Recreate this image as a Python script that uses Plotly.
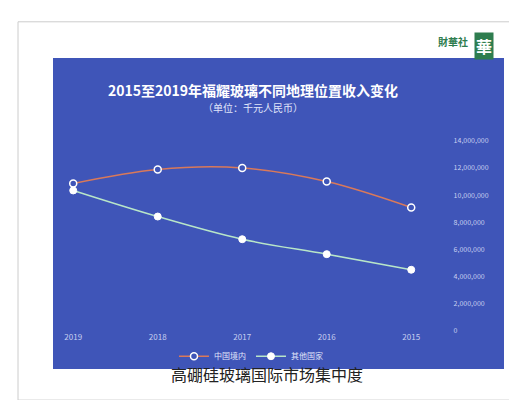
import plotly.graph_objects as go

years = ["2019", "2018", "2017", "2016", "2015"]
domestic = [10860000, 11890000, 12000000, 11000000, 9090000]
overseas = [10340000, 8420000, 6750000, 5650000, 4500000]
y_ticks = [0, 2000000, 4000000, 6000000, 8000000, 10000000, 12000000, 14000000]

W, H = 517, 400

def px(x, y):
	return x / W, 1 - y / H

fig = go.Figure()
fig.add_trace(go.Scatter(
	x=years, y=domestic, name="中国境内", mode="lines+markers",
	line=dict(color="#d9795a", width=1.5, shape="spline"),
	marker=dict(symbol="circle", size=7, color="#3f55b8", line=dict(color="white", width=1.5))
))
fig.add_trace(go.Scatter(
	x=years, y=overseas, name="其他国家", mode="lines+markers",
	line=dict(color="#b8e6c8", width=1.5, shape="spline"),
	marker=dict(symbol="circle", size=7, color="white", line=dict(color="white", width=1))
))

x0, y0 = px(45, 45)
x1, y1 = px(496, 364)
fig.add_shape(type="rect", xref="paper", yref="paper", x0=x0, y0=y1, x1=x1, y1=y0,
	fillcolor="#3f55b8", line=dict(width=0), layer="below")
fig.add_shape(type="rect", xref="paper", yref="paper", x0=px(10, 0)[0], y0=px(0, 396)[1],
	x1=px(510, 0)[0], y1=px(0, 8)[1], fillcolor="rgba(0,0,0,0)",
	line=dict(color="#cccccc", width=1))

fig.update_layout(
	width=W, height=H, margin=dict(l=0, r=0, t=0, b=0),
	paper_bgcolor="white", plot_bgcolor="rgba(0,0,0,0)",
	font=dict(family="Noto Sans CJK SC", color="#d5dcf5", size=8),
	xaxis=dict(domain=[0.1, 0.86], range=[-0.16, 4.49], type="category",
		showgrid=False, zeroline=False, showline=False, ticks="",
		tickfont=dict(size=8, color="#c8d0f0")),
	yaxis=dict(domain=[0.1875, 0.675], range=[0, 14000000], side="right",
		tickvals=y_ticks, tickformat=",d", showgrid=False, zeroline=False,
		tickfont=dict(size=7, color="#c8d0f0")),
	legend=dict(orientation="h", x=0.47, y=px(0, 351)[1], xanchor="center", yanchor="middle",
		font=dict(size=8, color="#e0e5fa"), bgcolor="rgba(0,0,0,0)",
		itemwidth=30, tracegroupgap=0),
	showlegend=True,
	annotations=[
		dict(text="<b>2015至2019年福耀玻璃不同地理位置收入变化</b>", xref="paper", yref="paper",
			x=px(245, 0)[0], y=px(0, 66)[1], showarrow=False,
			font=dict(size=14, color="white")),
		dict(text="（单位：千元人民币）", xref="paper", yref="paper",
			x=px(245, 0)[0], y=px(0, 86)[1], showarrow=False,
			font=dict(size=10, color="#e0e5fa")),
		dict(text="高硼硅玻璃国际市场集中度", xref="paper", yref="paper",
			x=0.5, y=px(0, 384)[1], showarrow=False,
			font=dict(size=16, color="#222222")),
		dict(text="<b>財華社</b>", xref="paper", yref="paper",
			x=px(462, 0)[0], y=px(0, 18)[1], showarrow=False, xanchor="right",
			font=dict(size=10, color="#2e7d4f")),
		dict(text="<b>華</b>", xref="paper", yref="paper",
			x=px(486, 0)[0], y=px(0, 18)[1], showarrow=False, bgcolor="#2e7d4f",
			font=dict(size=16, color="white")),
	],
)

fig.write_html("out.html")
